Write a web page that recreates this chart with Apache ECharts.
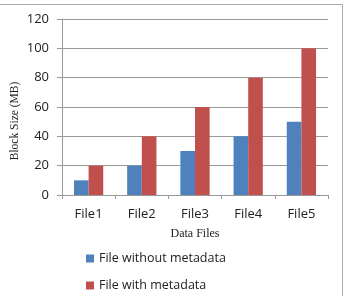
<!DOCTYPE html>
<html>
<head>
<meta charset="utf-8">
<script src="https://cdn.jsdelivr.net/npm/echarts@6/dist/echarts.min.js"></script>
<style>
  html, body { margin: 0; padding: 0; background: #fff; }
  #chart { width: 345px; height: 296px; }
</style>
</head>
<body>
<div id="chart"></div>
<script>
// data
var files = ['File1', 'File2', 'File3', 'File4', 'File5'];
var withoutMeta = [10, 20, 30, 40, 50];
var withMeta = [20, 40, 60, 80, 100];
var seriesNames = ['File without metadata', 'File with metadata'];

var chart = echarts.init(document.getElementById('chart'));
var sansFont = '"Open Sans", "Liberation Sans", sans-serif';
var serifFont = '"Liberation Serif", "DejaVu Serif", serif';

var option = {
    animation: false,
    grid: { left: 62, right: 17, top: 19, bottom: 101 },
    legend: {
        orient: 'vertical',
        left: 86,
        top: 252,
        padding: 0,
        itemWidth: 8,
        itemHeight: 8,
        itemGap: 14,
        icon: 'rect',
        textStyle: { fontFamily: sansFont, fontSize: 12.5, color: '#222' },
        data: seriesNames
    },
    xAxis: {
        type: 'category',
        data: files,
        name: 'Data Files',
        nameLocation: 'middle',
        nameGap: 33,
        nameTextStyle: { fontFamily: serifFont, fontSize: 12, color: '#222' },
        axisLine: { lineStyle: { color: '#999' } },
        axisTick: { show: true, length: 4, alignWithLabel: false, lineStyle: { color: '#999' } },
        axisLabel: { fontFamily: sansFont, fontSize: 13, color: '#222', margin: 13 }
    },
    yAxis: {
        type: 'value',
        min: 0,
        max: 120,
        interval: 20,
        axisLine: { show: true, lineStyle: { color: '#999' } },
        axisTick: { show: true, length: 5, lineStyle: { color: '#999' } },
        axisLabel: { fontFamily: sansFont, fontSize: 13, color: '#222', margin: 13 },
        splitLine: { lineStyle: { color: '#9a9a9a' } }
    },
    series: [
        {
            name: seriesNames[0],
            type: 'bar',
            data: withoutMeta,
            barGap: '0%',
            barCategoryGap: '45%',
            itemStyle: { color: '#4F81BD' }
        },
        {
            name: seriesNames[1],
            type: 'bar',
            data: withMeta,
            barGap: '0%',
            barCategoryGap: '45%',
            itemStyle: { color: '#C0504D' }
        }
    ],
    graphic: [
        // y axis title sits a bit below the plot middle in the original
        {
            type: 'text', x: 15, y: 121, rotation: Math.PI / 2,
            style: { text: 'Block Size (MB)', font: '11.5px ' + serifFont, fill: '#222', align: 'center', verticalAlign: 'middle' }
        },
        { type: 'line', shape: { x1: 0, y1: 4.5, x2: 342.5, y2: 4.5 }, style: { stroke: '#aaa', lineWidth: 1 } },
        { type: 'line', shape: { x1: 342.5, y1: 4.5, x2: 342.5, y2: 296 }, style: { stroke: '#aaa', lineWidth: 1 } }
    ]
};
chart.setOption(option);
</script>
</body>
</html>
